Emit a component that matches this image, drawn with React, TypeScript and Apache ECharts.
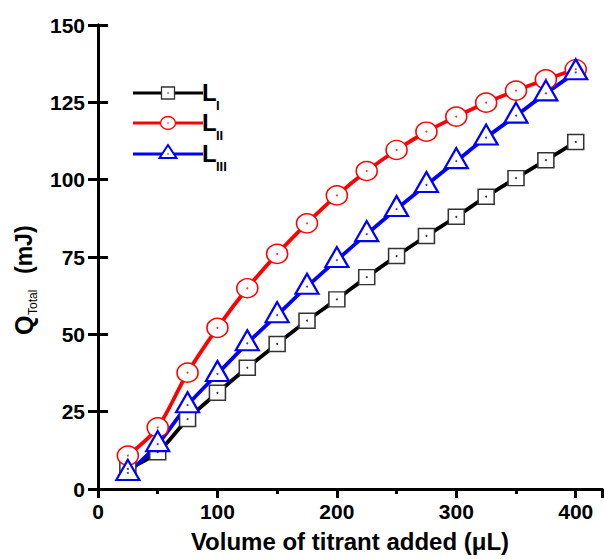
import React, { useEffect, useRef } from "react";
import * as echarts from "echarts";

const volumes = [25, 50, 75, 100, 125, 150, 175, 200, 225, 250, 275, 300, 325, 350, 375, 400];
const qL1 = [6.5, 11.9, 22.6, 31.1, 39.2, 46.9, 54.4, 61.3, 68.5, 75.3, 81.8, 88.0, 94.5, 100.5, 106.3, 112.2];
const qL2 = [10.8, 19.9, 37.6, 52.1, 64.9, 76.0, 85.9, 94.9, 102.8, 109.6, 115.5, 120.4, 124.9, 128.8, 132.4, 135.7];
const qL3 = [5.2, 14.5, 27.1, 37.2, 47.1, 56.2, 65.4, 74.0, 82.4, 90.5, 98.3, 106.0, 113.6, 120.7, 127.9, 134.7];
const seriesNames = ["L_I", "L_II", "L_III"];
const legendSubs = ["I", "II", "III"];
const xTicks = [0, 100, 200, 300, 400];
const yTicks = [0, 25, 50, 75, 100, 125, 150];

const FONT = '"Liberation Sans", Arial, sans-serif';

export default function App() {
  const ref = useRef<HTMLDivElement>(null);
  useEffect(() => {
    const chart = echarts.init(ref.current!, null, { renderer: "svg" });
    const pair = (arr: number[]) => volumes.map((v, i) => [v, arr[i]]);
    const labelStyle = { color: "#000", fontFamily: FONT, fontWeight: "bold" as const, fontSize: 21 };
    const axisLine = { show: true, lineStyle: { color: "#000", width: 3 } };

    const legendRows = [
      { y: 93, color: "#000000" },
      { y: 123, color: "#ff0000" },
      { y: 154, color: "#0000ff" },
    ];
    const legendGraphics: any[] = [];
    legendRows.forEach((r, i) => {
      legendGraphics.push({ type: "line", shape: { x1: 133, y1: r.y, x2: 203, y2: r.y }, style: { stroke: r.color, lineWidth: 3 } });
      if (i === 0) {
        legendGraphics.push({ type: "rect", shape: { x: 161.5, y: r.y - 6, width: 13, height: 12 }, style: { fill: "#fff", stroke: "#333", lineWidth: 1.3 } });
      } else if (i === 1) {
        legendGraphics.push({ type: "ellipse", shape: { cx: 168, cy: r.y, rx: 7.5, ry: 6.5 }, style: { fill: "#fff", stroke: r.color, lineWidth: 1.3 } });
      } else {
        legendGraphics.push({ type: "polygon", shape: { points: [[168, r.y - 9], [176.5, r.y + 4], [159.5, r.y + 4]] }, style: { fill: "#fff", stroke: r.color, lineWidth: 2 } });
      }
      legendGraphics.push({ type: "circle", shape: { cx: 168, cy: r.y, r: 0.7 }, style: { fill: r.color } });
      legendGraphics.push({ type: "text", x: 202, y: r.y - 1, style: { text: "L", font: `bold 24px ${FONT}`, fill: "#000", align: "left", verticalAlign: "middle" } });
      legendGraphics.push({ type: "text", x: 216, y: r.y + 12, style: { text: legendSubs[i], font: `bold 13px ${FONT}`, fill: "#000", align: "left", verticalAlign: "middle" } });
    });

    const yTitle = {
      type: "group",
      x: 24,
      y: 335,
      rotation: Math.PI / 2,
      children: [
        { type: "text", x: 0, y: 0, style: { text: "Q", font: `bold 25px ${FONT}`, fill: "#000", align: "left", verticalAlign: "middle" } },
        { type: "text", x: 20, y: 9, style: { text: "Total", font: `12px ${FONT}`, fill: "#000", align: "left", verticalAlign: "middle" } },
        { type: "text", x: 61, y: 0, style: { text: "(mJ)", font: `bold 23px ${FONT}`, fill: "#000", align: "left", verticalAlign: "middle" } },
      ],
    };

    const mkLine = (name: string, data: number[], color: string, symbol: string, size: any, border: string, bw: number, offset: number[] = [0, 0]) => ({
      name,
      type: "line",
      data: pair(data),
      smooth: 0.3,
      symbol,
      symbolSize: size,
      symbolOffset: offset,
      showSymbol: true,
      lineStyle: { color, width: 3.8 },
      itemStyle: { color: "#fff", borderColor: border, borderWidth: bw },
      z: 2,
    });
    const mkDots = (data: number[], color: string, z: number) => ({
      type: "scatter",
      data: pair(data),
      symbol: "circle",
      symbolSize: 2,
      itemStyle: { color },
      silent: true,
      z,
    });

    chart.setOption({
      animation: false,
      backgroundColor: "#fff",
      grid: { left: 98, right: 2, top: 25, bottom: 70, containLabel: false },
      xAxis: [
        {
          type: "value",
          min: 0,
          max: 422,
          interval: 100,
          position: "bottom",
          axisLine,
          axisTick: { show: true, inside: false, length: 9, lineStyle: { color: "#000", width: 3 } },
          minorTick: { show: true, splitNumber: 2, length: 5, lineStyle: { color: "#000", width: 3 } },
          splitLine: { show: false },
          axisLabel: { ...labelStyle, margin: 12, showMaxLabel: false, formatter: (v: number) => (xTicks.includes(v) ? String(v) : "") },
          name: "Volume of titrant added (\u03bcL)",
          nameLocation: "middle",
          nameGap: 40,
          nameTextStyle: { color: "#000", fontFamily: FONT, fontWeight: "bold", fontSize: 24 },
        },
        {
          type: "value",
          min: 0,
          max: 422,
          interval: 100,
          position: "top",
          axisLine,
          axisTick: { show: true, inside: true, length: 8, lineStyle: { color: "#000", width: 3 } },
          minorTick: { show: true, splitNumber: 2, length: 4, lineStyle: { color: "#000", width: 3 } },
          splitLine: { show: false },
          axisLabel: { show: false },
        },
      ],
      yAxis: [
        {
          type: "value",
          min: 0,
          max: 150,
          interval: 25,
          position: "left",
          axisLine,
          axisTick: { show: true, inside: true, length: 10, lineStyle: { color: "#000", width: 3 } },
          splitLine: { show: false },
          axisLabel: { ...labelStyle, margin: 13, formatter: (v: number) => (yTicks.includes(v) ? String(v) : "") },
        },
        {
          type: "value",
          min: 0,
          max: 150,
          interval: 25,
          position: "right",
          axisLine,
          axisTick: { show: true, inside: true, length: 10, lineStyle: { color: "#000", width: 3 } },
          splitLine: { show: false },
          axisLabel: { show: false },
        },
      ],
      series: [
        mkLine(seriesNames[0], qL1, "#000000", "rect", [16, 15], "#333333", 1.5),
        mkLine(seriesNames[1], qL2, "#ff0000", "circle", [21, 19], "#ff0000", 1.5),
        mkLine(seriesNames[2], qL3, "#0000ff", "triangle", [23, 20], "#0000ff", 2.2, [0, -3]),
        mkDots(qL1, "#000000", 5),
        mkDots(qL2, "#ff0000", 5),
        mkDots(qL3, "#0000ff", 5),
      ],
      graphic: [...legendGraphics, yTitle],
    });
    return () => chart.dispose();
  }, []);
  return <div ref={ref} style={{ position: "absolute", left: 0, top: 0, width: 604, height: 559, background: "#fff" }} />;
}
